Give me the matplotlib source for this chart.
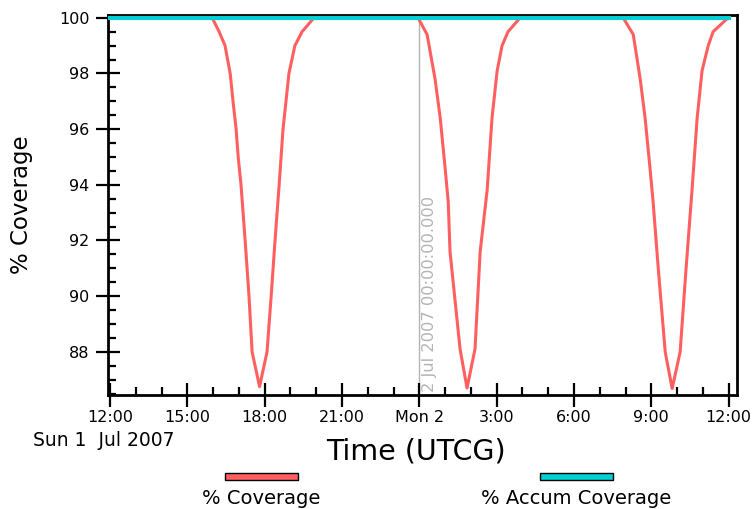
import matplotlib
matplotlib.use("Agg")
import matplotlib.pyplot as plt
from matplotlib.patches import Rectangle
from matplotlib.ticker import MultipleLocator

plt.rcParams['font.family'] = ['DejaVu Sans']

# hours since Sun 1 Jul 2007 12:00 UTCG
cov_hours = [0.0,
             3.96, 4.23, 4.46, 4.66, 4.77, 4.89, 4.97, 5.08, 5.24, 5.39, 5.51,
             5.80, 6.09, 6.25, 6.40, 6.56, 6.71, 6.94, 7.17, 7.45, 7.91,
             11.95, 12.30, 12.61, 12.81, 13.00, 13.12, 13.19, 13.58, 13.85,
             14.16, 14.36, 14.63, 14.82, 15.02, 15.21, 15.44, 15.91,
             19.91, 20.30, 20.57, 20.76, 20.95, 21.07, 21.27, 21.54, 21.81,
             22.12, 22.35, 22.58, 22.78, 22.97, 23.21, 23.40, 23.98, 24.0]
cov_values = [100.0,
              100.0, 99.5, 99.0, 98.0, 97.0, 96.0, 95.0, 94.0, 92.0, 90.0, 88.0,
              86.75, 88.0, 90.0, 92.0, 94.0, 96.0, 98.0, 99.0, 99.5, 100.0,
              100.0, 99.4, 97.8, 96.4, 94.6, 93.4, 91.6, 88.1, 86.7,
              88.1, 91.6, 93.8, 96.4, 98.1, 99.0, 99.5, 100.0,
              100.0, 99.4, 97.8, 96.4, 94.6, 93.4, 91.0, 88.0, 86.68,
              88.0, 91.0, 93.8, 96.4, 98.1, 99.0, 99.5, 100.0, 100.0]

accum_hours = [0.0, 24.0]
accum_values = [100.0, 100.0]

xtick_hours = [0, 3, 6, 9, 12, 15, 18, 21, 24]
xtick_labels = ['12:00', '15:00', '18:00', '21:00', 'Mon 2', '3:00', '6:00', '9:00', '12:00']
ytick_values = [88, 90, 92, 94, 96, 98, 100]

red = '#ff5f5f'
cyan = '#00cfd4'

fig = plt.figure(figsize=(7.56, 5.09), dpi=100)
ax = fig.add_axes([0.1429, 0.224, 0.8321, 0.7465])

ax.plot(cov_hours, cov_values, color=red, lw=2.2, zorder=3)
ax.plot(accum_hours, accum_values, color=cyan, lw=3, zorder=4, clip_on=False)

# day boundary marker
ax.axvline(12, color='#b4b4b4', lw=1, zorder=1)
ax.text(12.12, 86.55, '2 Jul 2007 00:00:00.000', rotation=90, color='#b4b4b4',
        fontsize=11.7, ha='left', va='bottom')

ax.set_xlim(-0.08, 24.33)
ax.set_ylim(86.45, 100.1)
ax.set_xticks(xtick_hours)
ax.set_xticklabels(xtick_labels)
ax.set_yticks(ytick_values)
ax.xaxis.set_minor_locator(MultipleLocator(1))
ax.yaxis.set_minor_locator(MultipleLocator(0.5))

ax.tick_params(which='major', direction='inout', length=17, width=1.6, labelsize=11.5, pad=2)
ax.tick_params(which='minor', direction='in', length=6, width=1.6)
ax.tick_params(axis='y', which='major', pad=5)

for s in ax.spines.values():
    s.set_linewidth(2)

ax.set_ylabel('% Coverage', fontsize=16.5, va='center')
ax.yaxis.set_label_coords(-0.137, 0.5)
ax.set_xlabel('Time (UTCG)', fontsize=20.5, va='center')
ax.xaxis.set_label_coords(0.49, -0.15)

fig.text(33 / 756, 1 - 440 / 509, 'Sun 1  Jul 2007', fontsize=13.5, ha='left', va='center')

# legend drawn below the axes, labels under the swatches
for x0, x1, col, lab in [(225, 298, red, '% Coverage'), (540, 613, cyan, '% Accum Coverage')]:
    fig.add_artist(Rectangle((x0 / 756, 1 - 480 / 509), (x1 - x0) / 756, 7 / 509,
                             facecolor=col, edgecolor='black', lw=1, transform=fig.transFigure))
    fig.text((x0 + x1) / 2 / 756, 1 - 499 / 509, lab, fontsize=14, ha='center', va='center')

fig.savefig('out.png', dpi=100)
